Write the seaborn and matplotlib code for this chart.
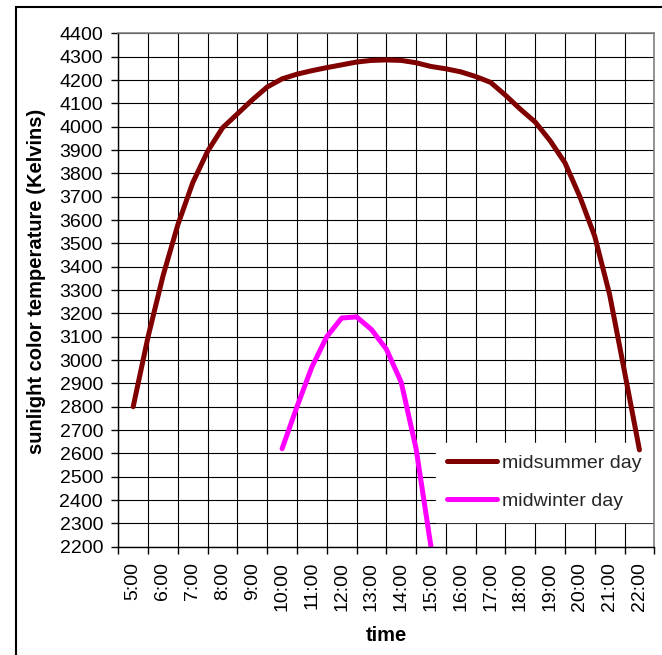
import numpy as np
import pandas as pd
import matplotlib
matplotlib.use('Agg')
import matplotlib.pyplot as plt
import seaborn as sns
from matplotlib.patches import Rectangle
from matplotlib.ticker import MultipleLocator, FixedLocator

#-----------data--------------------------------
summer_hours = [5, 5.5, 6, 6.5, 7, 7.5, 8, 8.5, 9, 9.5, 10, 10.5, 11, 11.5, 12, 12.5,
                13, 13.5, 14, 14.5, 15, 15.5, 16, 16.5, 17, 17.5, 18, 18.5, 19, 19.5,
                20, 20.5, 21, 21.5, 22]
summer_k = [2800, 3100, 3360, 3580, 3760, 3895, 3995, 4055, 4115, 4170, 4205, 4225,
            4240, 4253, 4265, 4277, 4284, 4286, 4284, 4274, 4258, 4248, 4235, 4215,
            4190, 4135, 4075, 4020, 3940, 3845, 3700, 3530, 3280, 2950, 2615]

winter_hours = [10, 10.5, 11, 11.5, 12, 12.5, 13, 13.5, 14, 14.5, 15]
winter_k = [2620, 2800, 2970, 3100, 3180, 3185, 3131, 3047, 2905, 2620, 2200]

hour_labels = ['{}:00'.format(h) for h in range(5, 23)]
series_names = ['midsummer day', 'midwinter day']
series_colors = ['#800000', '#FF00FF']

df = pd.concat([
    pd.DataFrame({'hour': summer_hours, 'kelvin': summer_k, 'series': series_names[0]}),
    pd.DataFrame({'hour': winter_hours, 'kelvin': winter_k, 'series': series_names[1]}),
])

#-----------style-------------
sns.set_theme(style='white')
plt.rcParams['font.family'] = ['Liberation Sans', 'DejaVu Sans']

fig = plt.figure(figsize=(6.62, 6.55), dpi=100)
ax = fig.add_axes([0.1787, 0.1653, 0.8097, 0.7838])

sns.lineplot(data=df, x='hour', y='kelvin', hue='series', palette=series_colors,
             hue_order=series_names, linewidth=3.6, ax=ax, sort=False,
             solid_capstyle='round', solid_joinstyle='round')

ax.set_xlim(4.5, 22.5)
ax.set_ylim(2200, 4400)

# y axis
ax.yaxis.set_major_locator(MultipleLocator(100))
ax.tick_params(axis='y', which='major', left=True, length=5, width=1, color='black',
               labelsize=14, pad=6, labelcolor='black')

# x axis: labels in category centres, ticks and grid at category edges
ax.xaxis.set_major_locator(FixedLocator(list(range(5, 23))))
ax.set_xticklabels(hour_labels, rotation=90)
ax.xaxis.set_minor_locator(FixedLocator(list(np.arange(4.5, 23, 1.0))))
ax.tick_params(axis='x', which='major', bottom=True, length=0, labelsize=14, pad=11,
               labelcolor='black')
ax.tick_params(axis='x', which='minor', bottom=True, length=5, width=1, color='black')

ax.grid(False)
ax.grid(True, axis='y', which='major', color='black', linewidth=0.8)
ax.grid(True, axis='x', which='minor', color='black', linewidth=0.8)
ax.set_axisbelow(True)

for side in ['left', 'bottom']:
    ax.spines[side].set_color('black')
    ax.spines[side].set_linewidth(1)
for side in ['top', 'right']:
    ax.spines[side].set_color('#808080')
    ax.spines[side].set_linewidth(1.2)

ax.set_xlabel('time', fontsize=14.5, fontweight='bold', color='black')
ax.set_ylabel('sunlight color temperature (Kelvins)', fontsize=14.5, fontweight='bold',
              color='black')
ax.xaxis.set_label_coords(0.5, -0.172)
ax.xaxis.label.set_va('center')
ax.yaxis.set_label_coords(-0.152, 0.517)
ax.yaxis.label.set_va('center')

leg = ax.legend(loc='upper left', bbox_to_anchor=(0.592, 0.202),
                borderaxespad=0, frameon=True, fancybox=False,
                framealpha=1, facecolor='white', edgecolor='white', fontsize=14,
                handlelength=2.57, handletextpad=0.25, labelspacing=1.04,
                borderpad=0.6, title=None)
leg.set_zorder(1.5)  # lines are drawn over the legend box, as in the original
for line in leg.get_lines():
    line.set_linewidth(3.6)
    line.set_solid_capstyle('round')

# outer chart frame
fig.patches.append(Rectangle((15.7 / 662, -0.02), 1.0, 1.02 - 6.7 / 655,
                             transform=fig.transFigure, fill=False,
                             edgecolor='black', linewidth=1.5))

fig.savefig('out.png', dpi=100)
